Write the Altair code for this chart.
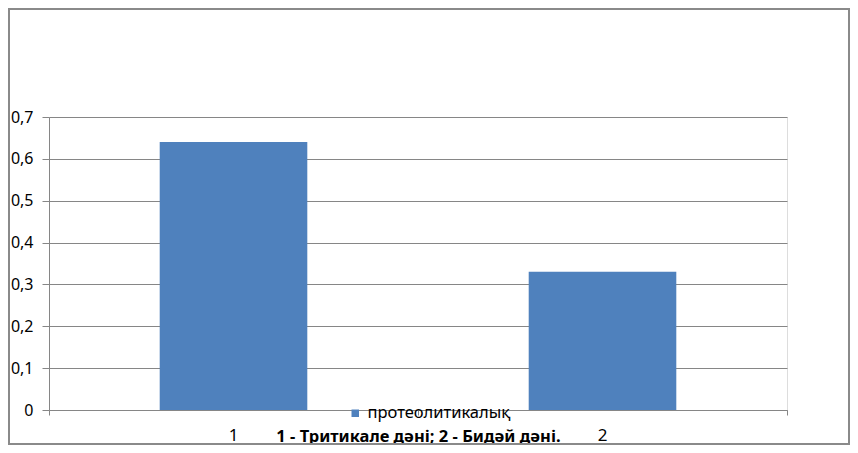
import altair as alt
import pandas as pd

categories = ["1", "2"]
positions = [0.5, 1.5]
values = [0.64, 0.33]
series = ["протеолитикалық", "протеолитикалық"]
y_ticks = [0, 0.1, 0.2, 0.3, 0.4, 0.5, 0.6, 0.7]

df = pd.DataFrame({
    "cat": categories,
    "pos": positions,
    "x0": [p - 0.2 for p in positions],
    "x1": [p + 0.2 for p in positions],
    "val": values,
    "series": series,
})

FONT = "Noto Sans"
GRID = "#868686"
W, H = 738, 293
BASE = 31

xscale = alt.Scale(domain=[0, 2], nice=False, zero=False)

bars = alt.Chart(df).mark_rect(color="#4F81BD").encode(
    x=alt.X("x0:Q", scale=xscale, axis=alt.Axis(
        values=[0, 1, 2], labels=False, tickSize=5, tickColor=GRID,
        domainColor=GRID, grid=False,
        title="1 - Тритикале дәні; 2 - Бидәй дәні.",
        titleFont=FONT, titleFontSize=16.5, titleFontWeight="bold",
        titleColor="black", titleY=BASE, titleBaseline="alphabetic")),
    x2="x1:Q",
    y=alt.Y("val:Q", scale=alt.Scale(domain=[0, 0.7], nice=False), axis=alt.Axis(
        values=y_ticks, title=None, tickSize=7, tickColor=GRID,
        domainColor=GRID, gridColor=GRID, labelPadding=9,
        labelFont=FONT, labelFontSize=16, labelColor="black",
        labelExpr="datum.value == 0 ? '0' : replace(format(datum.value, '.1f'), '.', ',')")),
    y2=alt.datum(0),
    color=alt.Color("series:N", scale=alt.Scale(range=["#4F81BD"]), legend=alt.Legend(
        title=None, orient="none", legendX=298, legendY=288, symbolType="square",
        symbolSize=56, symbolStrokeWidth=0, labelFont=FONT, labelFontSize=16.5,
        labelColor="black", labelOffset=4, padding=0)),
)

labels = alt.Chart(df).mark_text(font=FONT, fontSize=17, color="black", baseline="alphabetic").encode(
    x=alt.X("pos:Q", scale=xscale),
    y=alt.value(H + BASE),
    text="cat:N",
)

frame = alt.Chart(df).mark_rect(filled=False, stroke="#8a8a8a", strokeWidth=2).encode(
    x=alt.value(-40),
    x2=alt.value(800),
    y=alt.value(-108),
    y2=alt.value(327),
)

chart = alt.layer(bars, labels, frame).properties(
    width=W, height=H,
    padding={"left": 41, "top": 109, "right": 63, "bottom": 35},
    autosize=alt.AutoSizeParams(type="none"),
).configure_view(stroke=None).configure(background="white")

chart.save("out.html", embed_options={"renderer": "svg", "actions": False})
